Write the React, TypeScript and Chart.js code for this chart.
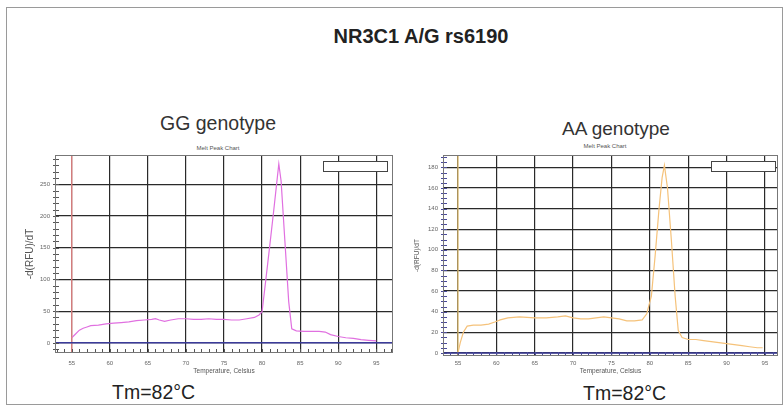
import React, { useEffect, useRef } from "react";
import { Chart, registerables } from "chart.js";

Chart.register(...registerables);

// ---------- data ----------
const TEMP_TICKS = [55, 60, 65, 70, 75, 80, 85, 90, 95];
const GG_Y_TICKS = [0, 50, 100, 150, 200, 250];
const AA_Y_TICKS = [0, 20, 40, 60, 80, 100, 120, 140, 160, 180];

const GG_TEMP = [55.0, 55.5, 56.0, 56.5, 57.0, 57.5, 58.5, 59.5, 60.5, 61.5, 62.5, 63.5, 64.5, 65.5, 66.0, 66.5, 67.2, 68.0, 69.0, 70.0, 71.0, 72.0, 73.0, 74.0, 75.0, 76.0, 77.0, 78.0, 79.0, 79.6, 80.0, 80.5, 81.0, 81.5, 82.0, 82.2, 82.5, 83.0, 83.5, 83.9, 84.5, 85.5, 86.5, 87.5, 88.3, 89.0, 90.0, 91.0, 92.0, 93.0, 94.0, 95.0];
const GG_VALUES = [8, 14, 20, 23, 25, 27, 28, 30, 31, 32, 33, 35, 36, 37, 38, 36, 34, 36, 38, 38, 37, 37, 38, 37, 37, 36, 36, 38, 40, 44, 49, 100, 152, 205, 260, 282, 255, 160, 65, 22, 19, 18, 18, 18, 17, 13, 10, 8, 7, 5, 4, 3];

const AA_TEMP = [55.0, 55.3, 55.7, 56.2, 57.0, 58.0, 59.0, 59.8, 60.5, 61.5, 63.0, 65.0, 66.5, 68.0, 69.0, 70.0, 71.0, 72.0, 73.0, 74.0, 75.0, 76.0, 77.0, 78.0, 79.0, 79.6, 80.2, 80.7, 81.2, 81.6, 81.9, 82.3, 82.8, 83.3, 83.7, 84.2, 85.0, 86.0, 87.0, 88.0, 89.0, 90.0, 91.0, 92.0, 93.0, 94.0, 94.7];
const AA_VALUES = [0, 10, 20, 26, 27, 27, 28, 30, 32, 34, 35, 34, 34, 35, 36, 34, 33, 33, 34, 35, 34, 33, 31, 31, 32, 38, 55, 95, 140, 170, 182, 160, 110, 55, 22, 15, 13, 13, 12, 11, 10, 9, 8, 7, 6, 5, 5];

const THRESHOLD_TEMP = [55, 55];
const BASELINE_VALUE = [0, 0];

const FONT = "'Liberation Sans', Arial, sans-serif";

// ---------- plugins ----------
const framePlugin = {
  id: "frameAndMinor",
  afterDatasetsDraw(chart: any, _args: any, opts: any) {
    const { ctx, chartArea: a, scales } = chart;
    const x = scales.x;
    const y = scales.y;
    ctx.save();
    ctx.strokeStyle = opts.tickColor || "#444";
    ctx.lineWidth = 1;
    for (let v = Math.ceil(x.min); v <= x.max; v += opts.xStep) {
      const px = Math.round(x.getPixelForValue(v)) + 0.5;
      ctx.beginPath();
      ctx.moveTo(px, a.bottom);
      ctx.lineTo(px, a.bottom - 4);
      ctx.stroke();
    }
    for (let v = Math.ceil(y.min / opts.yStep) * opts.yStep; v <= y.max; v += opts.yStep) {
      const py = Math.round(y.getPixelForValue(v)) + 0.5;
      ctx.beginPath();
      ctx.moveTo(a.left - 2, py);
      ctx.lineTo(a.left + 4, py);
      ctx.stroke();
    }
    ctx.strokeStyle = "#777";
    ctx.lineWidth = 1;
    ctx.strokeRect(a.left + 0.5, a.top + 0.5, a.right - a.left - 1, a.bottom - a.top - 1);
    ctx.restore();
  },
};

type Cfg = {
  temps: number[];
  values: number[];
  yTicks: number[];
  xMin: number;
  xMax: number;
  yMin: number;
  yMax: number;
  color: string;
  threshColor: string;
  yAxisW: number;
  xAxisH: number;
  padRight: number;
  yTitlePad: number;
  yTitleSize: number;
  xTickPad: number;
  yStep: number;
  tickColor: string;
};

function MeltChart({ cfg, style }: { cfg: Cfg; style: React.CSSProperties }) {
  const ref = useRef<HTMLCanvasElement | null>(null);
  useEffect(() => {
    if (!ref.current) return;
    const curve = cfg.temps.map((t, i) => ({ x: t, y: cfg.values[i] }));
    const thresh = THRESHOLD_TEMP.map((t, i) => ({ x: t, y: i === 0 ? cfg.yMin : cfg.yMax }));
    const base = BASELINE_VALUE.map((v, i) => ({ x: i === 0 ? cfg.xMin : cfg.xMax, y: v }));
    const chart = new Chart(ref.current, {
      type: "line",
      data: {
        datasets: [
          { data: base, borderColor: "#3b3b9a", borderWidth: 1.5, pointRadius: 0 },
          { data: thresh, borderColor: cfg.threshColor, borderWidth: 1.2, pointRadius: 0 },
          { data: curve, borderColor: cfg.color, borderWidth: 1.2, pointRadius: 0, tension: 0 },
        ],
      },
      options: {
        animation: false,
        responsive: false,
        events: [],
        layout: { padding: { top: 15, right: cfg.padRight, left: 0, bottom: 0 } },
        plugins: {
          legend: { display: false },
          tooltip: { enabled: false },
          title: { display: false },
          frameAndMinor: { xStep: 1, yStep: cfg.yStep, tickColor: cfg.tickColor },
        } as any,
        scales: {
          x: {
            type: "linear",
            min: cfg.xMin,
            max: cfg.xMax,
            afterBuildTicks: (s: any) => {
              s.ticks = TEMP_TICKS.map((v) => ({ value: v }));
            },
            afterFit: (s: any) => {
              s.height = cfg.xAxisH;
            },
            grid: { color: "#2a2a2a", lineWidth: 1.2, drawTicks: false },
            border: { display: false },
            ticks: {
              font: { size: 6, family: FONT },
              color: "#666",
              padding: cfg.xTickPad,
              maxRotation: 0,
              autoSkip: false,
            },
            title: {
              display: true,
              text: "Temperature, Celsius",
              font: { size: 6.5, family: FONT },
              color: "#555",
              padding: { top: 0, bottom: 5 },
            },
          },
          y: {
            type: "linear",
            min: cfg.yMin,
            max: cfg.yMax,
            afterBuildTicks: (s: any) => {
              s.ticks = cfg.yTicks.map((v) => ({ value: v }));
            },
            afterFit: (s: any) => {
              s.width = cfg.yAxisW;
            },
            grid: { color: "#2a2a2a", lineWidth: 1.2, drawTicks: false },
            border: { display: false },
            ticks: {
              font: { size: 6, family: FONT },
              color: "#666",
              padding: 5,
              autoSkip: false,
            },
            title: {
              display: true,
              text: "-d(RFU)/dT",
              font: { size: cfg.yTitleSize, family: FONT },
              color: "#555",
              padding: { top: cfg.yTitlePad, bottom: 0 },
            },
          },
        },
      },
      plugins: [framePlugin],
    } as any);
    return () => chart.destroy();
  }, [cfg]);
  return (
    <canvas
      ref={ref}
      width={style.width as number}
      height={style.height as number}
      style={{ position: "absolute", ...style }}
    />
  );
}

const GG_CFG: Cfg = {
  temps: GG_TEMP,
  values: GG_VALUES,
  yTicks: GG_Y_TICKS,
  xMin: 52.8,
  xMax: 97.2,
  yMin: -16,
  yMax: 296,
  color: "#e070e0",
  threshColor: "#f08a8a",
  yAxisW: 35,
  xAxisH: 27,
  padRight: 7,
  yTitlePad: 4,
  yTitleSize: 10,
  xTickPad: 7,
  yStep: 10,
  tickColor: "#555",
};

const AA_CFG: Cfg = {
  temps: AA_TEMP,
  values: AA_VALUES,
  yTicks: AA_Y_TICKS,
  xMin: 53.05,
  xMax: 96.7,
  yMin: -3,
  yMax: 192,
  color: "#f5c27a",
  threshColor: "#f5cf7a",
  yAxisW: 43,
  xAxisH: 24,
  padRight: 5,
  yTitlePad: 13,
  yTitleSize: 6.5,
  xTickPad: 4,
  yStep: 5,
  tickColor: "#4a4a9a",
};

const txt = (s: React.CSSProperties): React.CSSProperties => ({
  position: "absolute",
  fontFamily: FONT,
  lineHeight: 1,
  whiteSpace: "nowrap",
  color: "#222",
  ...s,
});

export default function App() {
  return (
    <div
      style={{
        position: "fixed",
        left: 0,
        top: 0,
        width: 783,
        height: 409,
        background: "#fff",
        overflow: "hidden",
      }}
    >
      <div
        style={{
          position: "absolute",
          left: 6,
          top: 7,
          width: 775,
          height: 396,
          border: "1.5px solid #9a9a9a",
        }}
      />
      <div style={txt({ left: 421, top: 26, fontSize: 20, fontWeight: "bold", transform: "translateX(-50%)" })}>
        NR3C1 A/G rs6190
      </div>
      <div style={txt({ left: 218, top: 114, fontSize: 19.5, color: "#333", transform: "translateX(-50%)" })}>
        GG genotype
      </div>
      <div style={txt({ left: 616, top: 119, fontSize: 19, color: "#333", transform: "translateX(-50%)" })}>
        AA genotype
      </div>
      <div style={txt({ left: 218, top: 145, fontSize: 6, color: "#555", transform: "translateX(-50%)" })}>
        Melt Peak Chart
      </div>
      <div style={txt({ left: 605, top: 143, fontSize: 6, color: "#555", transform: "translateX(-50%)" })}>
        Melt Peak Chart
      </div>

      <MeltChart cfg={GG_CFG} style={{ left: 20, top: 140, width: 380, height: 240 }} />
      <MeltChart cfg={AA_CFG} style={{ left: 400, top: 140, width: 383, height: 240 }} />

      <div style={{ position: "absolute", left: 323, top: 161, width: 65, height: 11, background: "#fff", border: "1px solid #444", boxSizing: "border-box" }} />
      <div style={{ position: "absolute", left: 711, top: 161, width: 65, height: 11, background: "#fff", border: "1px solid #444", boxSizing: "border-box" }} />

      <div style={txt({ left: 112, top: 383, fontSize: 19.5, color: "#222" })}>Tm=82°C</div>
      <div style={txt({ left: 583, top: 384, fontSize: 19.5, color: "#222" })}>Tm=82°C</div>
    </div>
  );
}
